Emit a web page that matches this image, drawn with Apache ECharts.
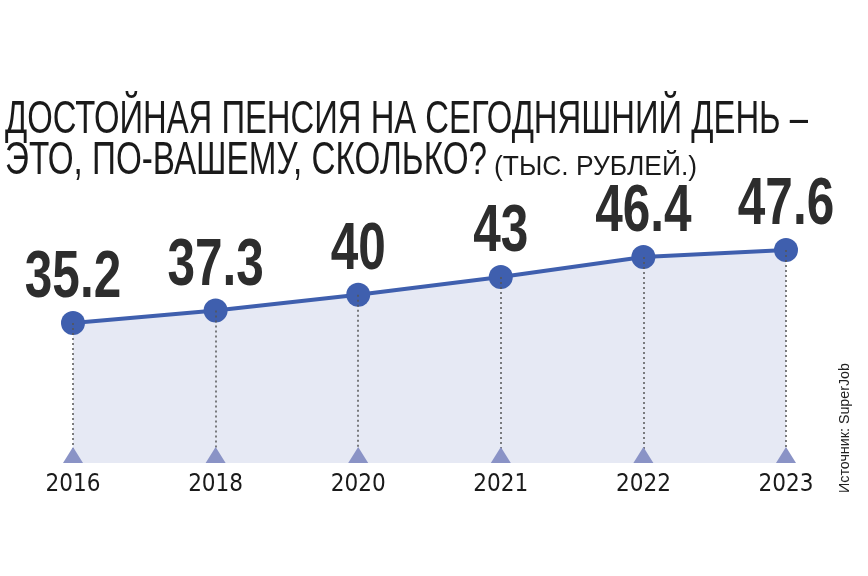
<!DOCTYPE html>
<html><head><meta charset="utf-8">
<script src="https://cdn.jsdelivr.net/npm/echarts@6/dist/echarts.min.js"></script>
<style>html,body{margin:0;padding:0;background:#fff}#c{width:868px;height:576px}</style>
</head><body><div id="c"></div>
<script>
const years = ['2016','2018','2020','2021','2022','2023'];
const values = [35.2, 37.3, 40, 43, 46.4, 47.6];
const titleLine1 = 'ДОСТОЙНАЯ ПЕНСИЯ НА СЕГОДНЯШНИЙ ДЕНЬ –';
const titleLine2 = 'ЭТО, ПО-ВАШЕМУ, СКОЛЬКО?';
const titleUnit = '(ТЫС. РУБЛЕЙ.)';
const sourceText = 'Источник: SuperJob';

const YMIN = 11.4, YMAX = 60;
const SANS = "'Liberation Sans', Arial, sans-serif";

const ctx = document.createElement('canvas').getContext('2d');
function fitScale(text, font, target) { ctx.font = font; return target / ctx.measureText(text).width; }

const f1 = "47px " + SANS, f3 = "28px " + SANS;
const labelFont = "bold 66px " + SANS;

const chart = echarts.init(document.getElementById('c'));
chart.setOption({
  backgroundColor: '#ffffff',
  animation: false,
  graphic: [
    { type: 'text', x: 5, y: 120, scaleX: fitScale(titleLine1, f1, 803),
      style: { text: titleLine1, font: f1, fill: '#1a1a1a', verticalAlign: 'middle' } },
    { type: 'text', x: 5, y: 161, scaleX: fitScale(titleLine2, f1, 482),
      style: { text: titleLine2, font: f1, fill: '#1a1a1a', verticalAlign: 'middle' } },
    { type: 'text', x: 494, y: 167, scaleX: fitScale(titleUnit, f3, 203),
      style: { text: titleUnit, font: f3, fill: '#1a1a1a', verticalAlign: 'middle' } },
    { type: 'text', x: 845, y: 493, rotation: Math.PI / 2, scaleX: fitScale(sourceText, "15px " + SANS, 130),
      style: { text: sourceText, font: "15px " + SANS, fill: '#222', align: 'left', verticalAlign: 'middle' } }
  ],
  grid: { left: 73, right: 82, top: 177, bottom: 113 },
  xAxis: {
    type: 'category', data: years, boundaryGap: false,
    axisLine: { show: false }, axisTick: { show: false },
    axisLabel: { margin: 10, fontFamily: "'DejaVu Sans Condensed', sans-serif", fontSize: 24, color: '#1a1a1a' }
  },
  yAxis: { type: 'value', min: YMIN, max: YMAX, show: false, splitLine: { show: false } },
  series: [
    {
      type: 'line', data: values, z: 3,
      symbol: 'circle', symbolSize: 24,
      itemStyle: { color: '#3f5fae' },
      lineStyle: { color: '#3f5fae', width: 4 },
      areaStyle: { color: '#e6e9f4', opacity: 1 },
      markLine: {
        silent: true, symbol: 'none', label: { show: false },
        lineStyle: { type: [2, 3], color: '#555', width: 1.5 },
        data: values.map((v, i) => [{ coord: [i, v] }, { coord: [i, YMIN] }])
      }
    },
    {
      type: 'scatter', data: values.map(() => YMIN), clip: false, zlevel: 1,
      symbol: 'triangle', symbolSize: [20, 16], symbolOffset: [0, -8],
      itemStyle: { color: '#8a93c6', opacity: 1 }
    },
    {
      type: 'custom', zlevel: 1, clip: false,
      data: values.map((v, i) => [i, v]),
      renderItem: function (params, api) {
        const p = api.coord([api.value(0), api.value(1)]);
        return {
          type: 'text', x: p[0], y: p[1] - 44, scaleX: 0.75,
          style: { text: String(api.value(1)), font: labelFont, fill: '#2d2d2d', align: 'center', verticalAlign: 'middle' }
        };
      }
    }
  ]
});
</script></body></html>
